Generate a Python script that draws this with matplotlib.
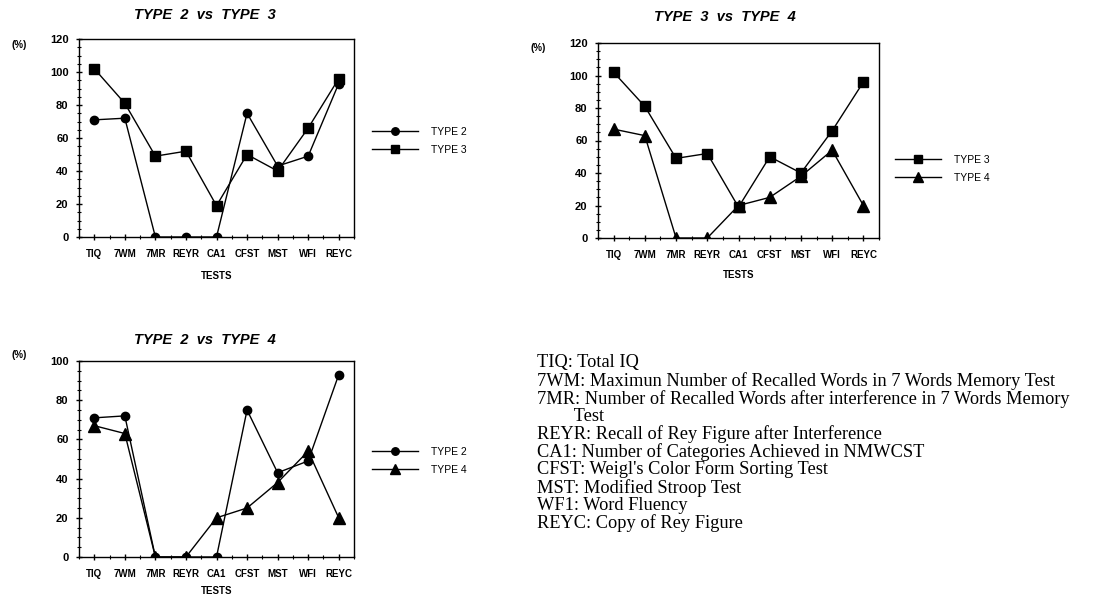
import matplotlib
matplotlib.use("Agg")
import matplotlib.pyplot as plt
from matplotlib.ticker import MultipleLocator

tests = ["TIQ", "7WM", "7MR", "REYR", "CA1", "CFST", "MST", "WFI", "REYC"]
type2 = [71, 72, 0, 0, 0, 75, 43, 49, 93]
type3 = [102, 81, 49, 52, 19, 50, 40, 66, 96]
type4 = [67, 63, 0, 0, 20, 25, 38, 54, 20]

legend_lines = [
    "TIQ: Total IQ",
    "7WM: Maximun Number of Recalled Words in 7 Words Memory Test",
    "7MR: Number of Recalled Words after interference in 7 Words Memory",
    "        Test",
    "REYR: Recall of Rey Figure after Interference",
    "CA1: Number of Categories Achieved in NMWCST",
    "CFST: Weigl's Color Form Sorting Test",
    "MST: Modified Stroop Test",
    "WF1: Word Fluency",
    "REYC: Copy of Rey Figure",
]

plt.rcParams['font.family'] = ['Liberation Sans', 'DejaVu Sans']

W, H = 1094, 599
fig = plt.figure(figsize=(W / 100, H / 100), dpi=100)

def fx(x):
    return x / W

def fy(y):
    return 1 - y / H

styles = {
    "TYPE 2": dict(marker="o", ms=6),
    "TYPE 3": dict(marker="s", ms=7),
    "TYPE 4": dict(marker="^", ms=8),
}
series = {"TYPE 2": type2, "TYPE 3": type3, "TYPE 4": type4}

panels = [
    dict(box=(79, 39, 354, 237), ymax=120, pair=("TYPE 2", "TYPE 3"), lp=9,
         title="TYPE  2  vs  TYPE  3", tpos=(205, 15), ppos=(19, 45), lpos=(372, 141)),
    dict(box=(598, 43, 879, 238), ymax=120, pair=("TYPE 3", "TYPE 4"), lp=7,
         title="TYPE  3  vs  TYPE  4", tpos=(725, 17), ppos=(538, 48), lpos=(895, 169)),
    dict(box=(79, 361, 354, 557), ymax=100, pair=("TYPE 2", "TYPE 4"), lp=5,
         title="TYPE  2  vs  TYPE  4", tpos=(205, 340), ppos=(19, 355), lpos=(372, 461)),
]

x = list(range(len(tests)))
for p in panels:
    l, t, r, b = p["box"]
    ax = fig.add_axes([fx(l), fy(b), (r - l) / W, (b - t) / H])
    handles = []
    for name in p["pair"]:
        st = styles[name]
        h, = ax.plot(x, series[name], color="black", lw=1.0, marker=st["marker"],
                     ms=st["ms"], mfc="black", mec="black", label=name)
        handles.append(h)
    ax.set_xlim(-0.5, 8.5)
    ax.set_ylim(0, p["ymax"])
    ax.set_xticks(x)
    ax.set_xticklabels(tests, fontsize=7, fontweight="bold")
    ax.xaxis.set_minor_locator(MultipleLocator(0.5))
    ax.yaxis.set_major_locator(MultipleLocator(20))
    ax.yaxis.set_minor_locator(MultipleLocator(5))
    ax.tick_params(axis="y", labelsize=8, width=1, length=5, direction="inout", pad=5)
    for lab in ax.get_yticklabels():
        lab.set_fontweight("bold")
    ax.tick_params(axis="x", width=1, length=5, direction="inout", pad=6)
    ax.tick_params(which="minor", length=3, width=0.8, direction="inout")
    for s in ax.spines.values():
        s.set_linewidth(1.0)
    ax.set_xlabel("TESTS", fontsize=7, fontweight="bold", labelpad=p["lp"])
    fig.text(fx(p["tpos"][0]), fy(p["tpos"][1]), p["title"], fontsize=10.5,
             fontweight="bold", fontstyle="italic", ha="center", va="center")
    fig.text(fx(p["ppos"][0]), fy(p["ppos"][1]), "(%)", fontsize=7,
             fontweight="bold", ha="center", va="center")
    fig.legend(handles=handles, loc="center left",
               bbox_to_anchor=(fx(p["lpos"][0]), fy(p["lpos"][1])),
               frameon=False, fontsize=7.5, handlelength=4.4, handletextpad=1.3,
               labelspacing=0.75, borderpad=0, borderaxespad=0, markerscale=0.9)

y0, dy = 363, 17.8
for i, line in enumerate(legend_lines):
    fig.text(fx(537), fy(y0 + i * dy), line, fontsize=13.2, family="Liberation Serif",
             ha="left", va="center")

fig.savefig("out.png", dpi=100)
